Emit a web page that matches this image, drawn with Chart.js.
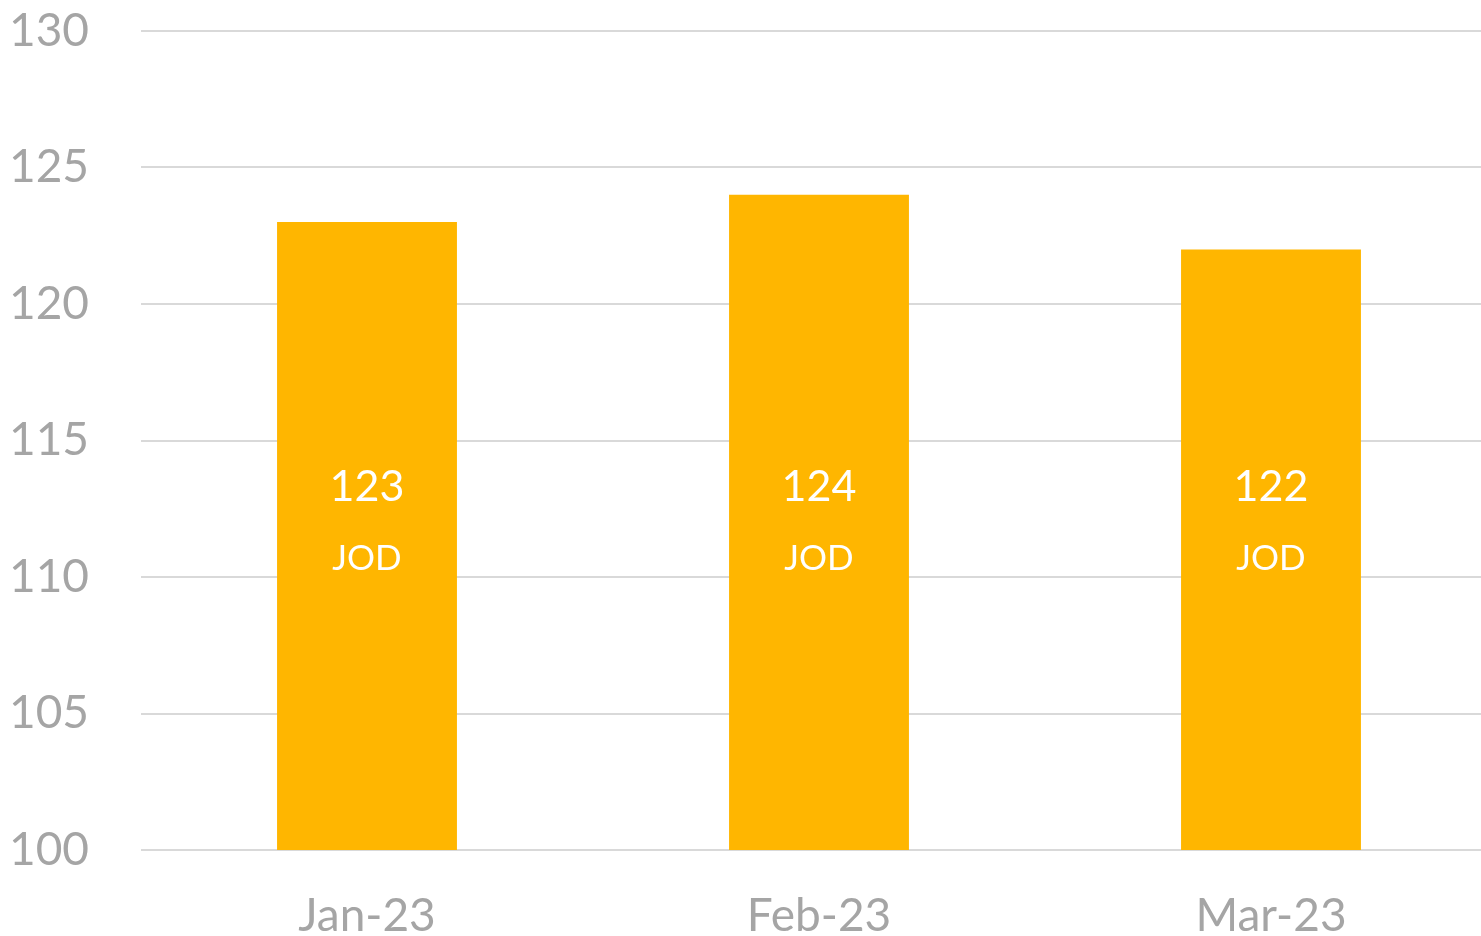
<!DOCTYPE html>
<html>
<head>
<meta charset="utf-8">
<script src="https://cdn.jsdelivr.net/npm/chart.js@4"></script>
<style>
    html, body { margin: 0; padding: 0; background: #fff; overflow: hidden; }
    #wrap { width: 1497px; height: 936px; }
</style>
</head>
<body>
<div id="wrap"><canvas id="price-chart"></canvas></div>
<script>
const months = ['Jan-23', 'Feb-23', 'Mar-23'];
const prices = [123, 124, 122];
const currency = 'JOD';
const yTicks = [100, 105, 110, 115, 120, 125, 130];

// value labels drawn inside each bar
const insideLabels = {
    id: 'insideLabels',
    afterDatasetsDraw: function(chart) {
        const ctx = chart.ctx;
        const yScale = chart.scales.y;
        const meta = chart.getDatasetMeta(0);
        const baseY = yScale.getPixelForValue(113.3);
        ctx.save();
        ctx.fillStyle = '#ffffff';
        ctx.textAlign = 'center';
        ctx.textBaseline = 'middle';
        meta.data.forEach((bar, i) => {
            ctx.font = '400 43px Lato';
            ctx.fillText(String(prices[i]), bar.x, baseY);
            ctx.font = '400 35px Lato';
            ctx.fillText(currency, bar.x, baseY + 72);
        });
        ctx.restore();
    }
};

const priceChart = new Chart(document.getElementById('price-chart'), {
    type: 'bar',
    data: {
        labels: months,
        datasets: [{
            data: prices,
            backgroundColor: '#FFB600',
            categoryPercentage: 1,
            barPercentage: 0.398,
        }],
    },
    options: {
        responsive: true,
        maintainAspectRatio: false,
        animation: false,
        layout: {
            padding: { top: 31, right: 0, left: 0, bottom: 0 },
        },
        plugins: {
            legend: { display: false },
            tooltip: { enabled: false },
        },
        scales: {
            x: {
                grid: { display: false, drawTicks: false },
                border: { display: false },
                ticks: {
                    color: '#a5a5a5',
                    font: { family: 'Lato', size: 46, weight: 400 },
                    padding: 39,
                },
                afterFit: function(axis) {
                    axis.height = 86;
                    axis.paddingLeft = 0;
                    axis.paddingRight = 0;
                },
            },
            y: {
                min: 100,
                max: 130,
                afterBuildTicks: function(axis) {
                    axis.ticks = yTicks.map(v => ({ value: v }));
                },
                grid: { color: '#d9d9d9', lineWidth: 2, drawTicks: false },
                border: { display: false },
                ticks: {
                    color: '#a5a5a5',
                    font: { family: 'Lato', size: 46, weight: 400 },
                    padding: 52,
                },
                afterFit: function(axis) {
                    axis.width = 141;
                    axis.paddingTop = 0;
                    axis.paddingBottom = 0;
                },
            },
        },
    },
    plugins: [insideLabels],
});
</script>
</body>
</html>
